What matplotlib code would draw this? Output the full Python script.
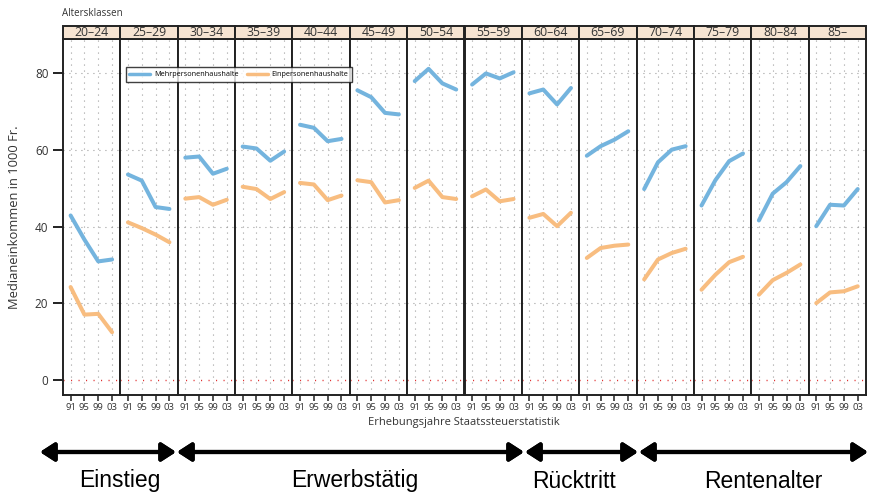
import numpy as np
import matplotlib.pyplot as plt
from matplotlib.patches import Rectangle

# Medianeinkommen nach Altersklassen, Steuerjahre 1991-2003
classes = ['20–24', '25–29', '30–34', '35–39', '40–44', '45–49', '50–54',
           '55–59', '60–64', '65–69', '70–74', '75–79', '80–84', '85–']
years = [1991, 1995, 1999, 2003]
year_labels = ['91', '95', '99', '03']

mehr = [
    [42.9, 36.6, 30.9, 31.4],
    [53.6, 52.0, 45.1, 44.6],
    [58.0, 58.3, 53.8, 55.1],
    [60.9, 60.4, 57.2, 59.6],
    [66.6, 65.8, 62.3, 62.9],
    [75.6, 73.8, 69.7, 69.3],
    [78.0, 81.2, 77.4, 75.8],
    [77.1, 80.0, 78.7, 80.3],
    [74.8, 75.8, 71.9, 76.2],
    [58.5, 61.0, 62.7, 64.9],
    [49.8, 56.8, 60.1, 61.0],
    [45.5, 52.1, 57.1, 59.1],
    [41.6, 48.6, 51.6, 55.8],
    [40.1, 45.7, 45.5, 49.8],
]
ein = [
    [24.2, 17.0, 17.2, 12.4],
    [41.1, 39.6, 37.9, 35.9],
    [47.3, 47.7, 45.7, 47.0],
    [50.4, 49.8, 47.2, 49.0],
    [51.4, 51.0, 46.9, 48.1],
    [52.1, 51.6, 46.3, 46.9],
    [50.1, 52.0, 47.7, 47.2],
    [47.9, 49.7, 46.6, 47.2],
    [42.3, 43.3, 40.1, 43.6],
    [31.8, 34.4, 35.0, 35.3],
    [26.2, 31.4, 33.1, 34.2],
    [23.5, 27.4, 30.7, 32.1],
    [22.2, 26.0, 27.9, 30.1],
    [20.0, 22.8, 23.1, 24.4],
]

# Lebensphasen: Name, Pfeil von/bis und Textmitte in Pixeln
phases = ['Einstieg', 'Erwerbstätig', 'Rücktritt', 'Rentenalter']
phase_x0 = [40, 177, 525, 639]
phase_x1 = [176, 524, 638, 868]
phase_tx = [120, 355, 574, 763]

blue = '#74b4de'
orange = '#f8bd80'
strip = '#f6e4d2'
W, H = 869, 497

plt.rcParams['font.family'] = ['Open Sans', 'DejaVu Sans']

fig = plt.figure(figsize=(W / 100, H / 100), dpi=100)

left, right, top, bottom = 63, 866, 39, 395
pw = (right - left) / len(classes)
dots = (0, (0.8, 4.6))

axes = []
for i, cl in enumerate(classes):
    x0 = left + i * pw
    ax = fig.add_axes([x0 / W, 1 - bottom / H, pw / W, (bottom - top) / H])
    axes.append(ax)
    ax.set_xlim(1988.8, 2005.4)
    ax.set_ylim(-4, 89)
    for y in [20, 40, 60, 80]:
        ax.axhline(y, color='#888888', lw=0.8, ls=dots, zorder=1)
    for yr in years:
        ax.axvline(yr, color='#888888', lw=0.8, ls=dots, zorder=1)
    ax.axhline(0, color='#e03030', lw=1.0, ls=dots, zorder=1)
    ax.plot(years, mehr[i], color=blue, lw=2.9, solid_capstyle='round',
            solid_joinstyle='round', zorder=3, label='Mehrpersonenhaushalte')
    ax.plot(years, ein[i], color=orange, lw=2.9, solid_capstyle='round',
            solid_joinstyle='round', zorder=3, label='Einpersonenhaushalte')
    for s in ax.spines.values():
        s.set_color('#222222')
        s.set_linewidth(1.4)
    ax.set_xticks(years)
    ax.set_xticklabels(year_labels, fontsize=6.8, color='#333333')
    ax.tick_params(axis='x', direction='out', length=4, width=1.1, pad=2,
                   color='#222222')
    if i == 0:
        ax.set_yticks([0, 20, 40, 60, 80])
        ax.tick_params(axis='y', direction='out', length=7, width=1.4,
                       labelsize=8.5, labelcolor='#333333', color='#222222')
    else:
        ax.set_yticks([])

    # Kopfzeile mit der Altersklasse
    sh = 13 / (bottom - top)
    ax.add_patch(Rectangle((0, 1), 1, sh, transform=ax.transAxes,
                           facecolor=strip, edgecolor='#222222', lw=1.4,
                           clip_on=False, zorder=5))
    ax.text(0.5, 1 + sh / 2, cl, transform=ax.transAxes, ha='center',
            va='center', fontsize=8.8, color='#333333', zorder=6)

h, l = axes[0].get_legend_handles_labels()
leg = fig.legend(h, l, loc='center left', ncol=2,
                 bbox_to_anchor=(122 / W, 1 - 74.5 / H), fontsize=5.2,
                 frameon=True, fancybox=False, edgecolor='#111111',
                 handlelength=2.9, handletextpad=0.5, columnspacing=1.2,
                 borderpad=0.5)
leg.get_frame().set_linewidth(1.0)
for ln in leg.get_lines():
    ln.set_linewidth(2.5)

fig.text(62 / W, 1 - 13 / H, 'Altersklassen', fontsize=7, color='#333333',
         va='center', ha='left')
fig.text(15 / W, 1 - 217 / H, 'Medianeinkommen in 1000 Fr.', fontsize=9.3,
         color='#333333', rotation=90, va='center', ha='center')
fig.text(464 / W, 1 - 423 / H, 'Erhebungsjahre Staatssteuerstatistik',
         fontsize=8, color='#333333', va='center', ha='center')

# Pfeile der Lebensphasen
ya = 1 - 452 / H
for name, a, b, tx in zip(phases, phase_x0, phase_x1, phase_tx):
    fig.add_artist(plt.annotate(
        '', xy=(b / W, ya), xytext=(a / W, ya), xycoords='figure fraction',
        arrowprops=dict(arrowstyle='<|-|>,head_length=0.85,head_width=0.55',
                        color='black', lw=3.0, shrinkA=0, shrinkB=0)))
    fig.text(tx / W, 1 - 481 / H, name, fontsize=16.5,
             family='Liberation Sans', ha='center', va='center')

fig.savefig('out.png', dpi=100)
